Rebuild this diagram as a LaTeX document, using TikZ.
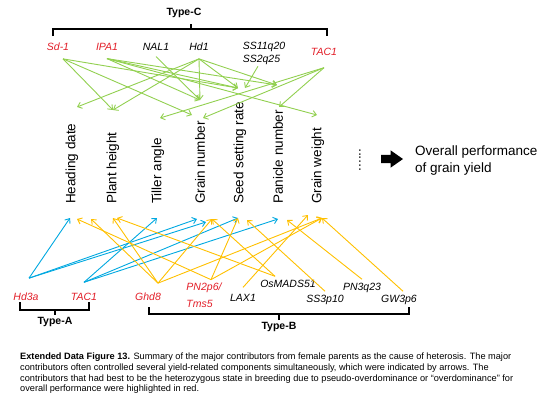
\documentclass[tikz,border=0pt]{standalone}
\usepackage{fontspec}
\setmainfont{Liberation Sans}
\usetikzlibrary{shapes, arrows.meta, positioning, calc}

\definecolor{ggreen}{RGB}{146,208,80}
\definecolor{gblue}{RGB}{0,168,224}
\definecolor{gyellow}{RGB}{255,192,0}
\definecolor{gred}{RGB}{226,30,40}

\begin{document}
\begin{tikzpicture}[x=1pt, y=-1pt, >={Straight Barb[length=4pt,width=6.5pt]}]

\tikzstyle{trait} = [rotate=90, anchor=west, inner sep=0pt, font=\fontsize{13.5}{16}\selectfont]
\tikzstyle{gene} = [inner sep=1pt, outer sep=3pt, align=left, font=\fontsize{10.5}{13}\selectfont\itshape]
\tikzstyle{hot} = [gene, text=gred]
\tikzstyle{typelabel} = [inner sep=1pt, font=\fontsize{10.5}{12}\selectfont\bfseries]
\tikzstyle{bracket} = [draw, line width=1.3pt]
\tikzstyle{garrow} = [->, draw=ggreen, line width=0.9pt]
\tikzstyle{barrow} = [->, draw=gblue, line width=0.9pt]
\tikzstyle{yarrow} = [->, draw=gyellow, line width=0.9pt]

\useasboundingbox (0,0) rectangle (550,413);

%Creating Trait Nodes
\node[trait] at (72,204) (hd) {Heading date};
\node[trait] at (113,204) (ph) {Plant height};
\node[trait] at (158,204) (ta) {Tiller angle};
\node[trait] at (200,204) (gn) {Grain number};
\node[trait] at (240,204) (ssr) {Seed setting rate};
\node[trait] at (278,204) (pn) {Panicle number};
\node[trait] at (318,204) (gw) {Grain weight};
\node[trait, anchor=center] at (360,160) (dots) {......};
\node[single arrow, fill=black, inner sep=4pt, minimum height=22pt, single arrow head extend=4.5pt, single arrow tip angle=70] at (389,159) (big) {};
\node[anchor=west, align=left, inner sep=0pt, font=\fontsize{13.5}{17}\selectfont] at (415,161) (yield) {Overall performance\\of grain yield};

%Creating Gene Nodes
\node[hot, outer sep=7pt] at (58,47) (sd) {Sd-1};
\node[hot, outer sep=7pt] at (107,47) (ipa) {IPA1};
\node[gene, outer sep=5pt] at (156,47) (nal) {NAL1};
\node[gene, outer sep=7pt] at (199,47) (hdone) {Hd1};
\node[gene, outer sep=1pt] at (264,53) (ss) {SS11q20\\SS2q25};
\node[hot, outer sep=11pt] at (324,52) (tacc) {TAC1};

\node[hot, outer sep=14pt] at (26,297) (hdthree) {Hd3a};
\node[hot, outer sep=10pt] at (84,297) (taca) {TAC1};
\node[hot, outer sep=9pt] at (148,297) (ghd) {Ghd8};
\node[hot, outer sep=2pt, font=\fontsize{10.5}{17}\selectfont\itshape] at (204,295) (pntwo) {PN2p6/\\Tms5};
\node[gene, outer sep=6pt] at (243,298) (lax) {LAX1};
\node[gene] at (288,284) (mads) {OsMADS51};
\node[gene] at (325,300) (ssthree) {SS3p10};
\node[gene] at (362,288) (pnthree) {PN3q23};
\node[gene] at (399,300) (gwthree) {GW3p6};

%Type Brackets
\draw[bracket] (53,36) -- (53,29) -- (327,29) -- (327,36);
\draw[bracket] (191,29) -- (191,24);
\node[typelabel] at (184,13) (typec) {Type-C};
\draw[bracket] (20,302) -- (20,310) -- (89,310) -- (89,302);
\draw[bracket] (55,310) -- (55,315) coordinate (atick);
\node[typelabel, below=1pt of atick] (typea) {Type-A};
\draw[bracket] (149,307) -- (149,314) -- (409,314) -- (409,307);
\draw[bracket] (279,314) -- (279,320) coordinate (btick);
\node[typelabel, below=1pt of btick] (typeb) {Type-B};

%Arrow ends above and below the traits
\coordinate (hd-t) at ($(hd.west)+(5,-97)$);
\coordinate (ph-t) at ($(ph.west)+(0,-94)$);
\coordinate (ta-t) at ($(ta.west)+(2,-86)$);
\coordinate (gn-t1) at ($(gn.west)+(-8,-89)$);
\coordinate (gn-t2) at ($(gn.west)+(0,-104)$);
\coordinate (gn-t3) at ($(gn.west)+(3,-86)$);
\coordinate (ssr-t1) at ($(ssr.west)+(-2,-116)$);
\coordinate (ssr-t2) at ($(ssr.west)+(5,-116)$);
\coordinate (pn-t1) at ($(pn.west)+(-1,-119)$);
\coordinate (pn-t2) at ($(pn.west)+(1,-97)$);
\coordinate (gw-t) at ($(gw.west)+(-1,-89)$);

\coordinate (hd-b1) at ($(hd.west)+(-2,14)$);
\coordinate (hd-b2) at ($(hd.west)+(5,15)$);
\coordinate (hd-b3) at ($(hd.west)+(19,15)$);
\coordinate (ph-b1) at ($(ph.west)+(0,14)$);
\coordinate (ph-b2) at ($(ph.west)+(4,14)$);
\coordinate (ta-b) at ($(ta.west)+(-1,14)$);
\coordinate (gn-b1) at ($(gn.west)+(-3,15)$);
\coordinate (gn-b2) at ($(gn.west)+(6,18)$);
\coordinate (gn-b3) at ($(gn.west)+(12,15)$);
\coordinate (ssr-b1) at ($(ssr.west)+(-2,14)$);
\coordinate (ssr-b2) at ($(ssr.west)+(7,16)$);
\coordinate (pn-b1) at ($(pn.west)+(0,15)$);
\coordinate (pn-b2) at ($(pn.west)+(9,16)$);
\coordinate (gw-b1) at ($(gw.west)+(-10,11)$);
\coordinate (gw-b2) at ($(gw.west)+(4,14)$);

%Connecting Genes and Traits
\foreach \from/\dx/\to in {sd/5/ph-t, sd/5/gn-t1, sd/5/ssr-t1,
    ipa/0/gn-t2, ipa/0/ssr-t1, ipa/0/pn-t1, ipa/0/gw-t, nal/0/gn-t2,
    hdone/0/hd-t, hdone/0/ph-t, hdone/0/gn-t2, hdone/0/ssr-t1, hdone/0/pn-t1,
    ss/-6/ssr-t2, tacc/0/ta-t, tacc/0/gn-t3, tacc/0/pn-t2}
  \draw[garrow] ([xshift=\dx pt]\from.south) -- (\to);

\foreach \from/\dx/\to in {hdthree/3/hd-b1, hdthree/3/gn-b1, hdthree/3/gn-b2,
    taca/0/ta-b, taca/0/ssr-b1, taca/0/pn-b1}
  \draw[barrow] ([xshift=\dx pt]\from.north) -- (\to);

\foreach \from/\dx/\to in {ghd/10/hd-b3, ghd/10/ph-b1, ghd/10/gn-b3, ghd/10/gw-b2,
    pntwo/7/hd-b2, pntwo/7/ssr-b1, pntwo/7/gw-b2,
    mads/-13/ph-b2, mads/-13/gn-b3, lax/0/gw-b1,
    ssthree/0/ssr-b2, pnthree/0/pn-b2, gwthree/4/gw-b2}
  \draw[yarrow] ([xshift=\dx pt]\from.north) -- (\to);

%Caption
\node[anchor=north west, align=left, inner sep=0pt, font=\fontsize{9.2}{10.7}\selectfont] at (20,353) (caption) {\textbf{Extended Data Figure 13.} Summary of the major contributors from female parents as the cause of heterosis. The major\\contributors often controlled several yield-related components simultaneously, which were indicated by arrows. The\\contributors that had best to be the heterozygous state in breeding due to pseudo-overdominance or ``overdominance'' for\\overall performance were highlighted in red.};

\end{tikzpicture}
\end{document}
